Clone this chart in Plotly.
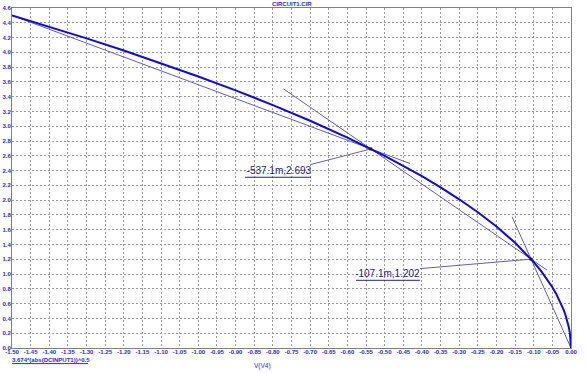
import plotly.graph_objects as go

# ---- data ----
x_curve = [-1.50, -1.40, -1.30, -1.20, -1.10, -1.00, -0.90, -0.80, -0.70, -0.60,
           -0.50, -0.40, -0.35, -0.30, -0.25, -0.20, -0.15, -0.12, -0.10, -0.08,
           -0.06, -0.05, -0.04, -0.03, -0.02, -0.015, -0.01, -0.006, -0.003, -0.001, 0.0]
y_curve = [4.500, 4.347, 4.189, 4.025, 3.853, 3.674, 3.486, 3.286, 3.074, 2.846,
           2.598, 2.324, 2.174, 2.012, 1.837, 1.643, 1.423, 1.273, 1.162, 1.039,
           0.900, 0.822, 0.735, 0.636, 0.520, 0.450, 0.367, 0.285, 0.201, 0.116, 0.0]

# thin construction lines
chord1_x = [-1.50, -0.432]
chord1_y = [4.500, 2.496]
chord12_x = [-0.771, -0.064]
chord12_y = [3.504, 1.053]
chord2_x = [-0.158, 0.0]
chord2_y = [1.773, 0.0]

# marked points
pts_x = [-0.5371, -0.1071]
pts_y = [2.693, 1.202]
pt_labels = ["-537.1m,2.693", "-107.1m,1.202"]

# label leader lines (label end -> point)
lead1_x = [-0.698, -0.5371]
lead1_y = [2.483, 2.693]
lead2_x = [-0.405, -0.1071]
lead2_y = [1.074, 1.202]

# label text centers and underlines
lab_x = [-0.784, -0.4927]
lab_y = [2.384, 0.997]
ul1_x = [-0.875, -0.698]
ul1_y = [2.310, 2.310]
ul2_x = [-0.577, -0.405]
ul2_y = [0.916, 0.916]

x_ticks = [round(-1.5 + 0.05 * i, 2) for i in range(31)]
x_tick_text = ["%.2f" % v if abs(v) > 1e-9 else "0.00" for v in x_ticks]
y_ticks = [round(0.2 * i, 1) for i in range(24)]
y_tick_text = ["%.1f" % v for v in y_ticks]

CURVE = "#0a0ae6"
THIN = "rgb(95,95,185)"
LAB = "#24247e"
TICK = "#2a2ae0"
SMALL = "Liberation Sans, Arial, sans-serif"

fig = go.Figure()
for xs, ys in [(chord1_x, chord1_y), (chord12_x, chord12_y), (chord2_x, chord2_y),
               (lead1_x, lead1_y), (lead2_x, lead2_y)]:
    fig.add_trace(go.Scatter(x=xs, y=ys, mode="lines",
                             line=dict(color=THIN, width=1), hoverinfo="skip"))
for xs, ys in [(ul1_x, ul1_y), (ul2_x, ul2_y)]:
    fig.add_trace(go.Scatter(x=xs, y=ys, mode="lines",
                             line=dict(color=LAB, width=1), hoverinfo="skip"))
fig.add_trace(go.Scatter(x=x_curve, y=y_curve, mode="lines",
                         line=dict(color=CURVE, width=2), hoverinfo="skip"))
fig.add_trace(go.Scatter(x=pts_x, y=pts_y, mode="markers",
                         marker=dict(symbol="square", size=3, color="#1a1a50"),
                         hoverinfo="skip"))
fig.add_trace(go.Scatter(x=lab_x, y=lab_y, mode="text", text=pt_labels,
                         textfont=dict(family="Liberation Sans, Arial", size=10, color=LAB),
                         hoverinfo="skip"))

fig.update_layout(
    width=587, height=373, autosize=False,
    margin=dict(l=12, r=16, t=8, b=25, pad=0),
    paper_bgcolor="white", plot_bgcolor="white",
    showlegend=False,
    xaxis=dict(range=[-1.5, 0.0], tickmode="array", tickvals=x_ticks, ticktext=x_tick_text,
               tickangle=0, ticks="", showgrid=True, gridcolor="#9a9a9a", gridwidth=1,
               griddash="2px,2px", zeroline=False, showline=True, linecolor="#808080",
               linewidth=1, mirror=True, automargin=False, ticklabelstandoff=-2,
               tickfont=dict(family=SMALL, size=6, color=TICK, weight="bold")),
    yaxis=dict(range=[0.0, 4.6], tickmode="array", tickvals=y_ticks, ticktext=y_tick_text,
               ticks="", showgrid=True, gridcolor="#9a9a9a", gridwidth=1,
               griddash="2px,2px", zeroline=False, showline=True, linecolor="#808080",
               linewidth=1, mirror=True, automargin=False, ticklabelstandoff=-1,
               tickfont=dict(family=SMALL, size=6, color=TICK, weight="bold")),
    font=dict(family="Liberation Sans, Arial"),
)

fig.add_annotation(text="CIRCUIT1.CIR", xref="paper", yref="paper", x=0.501, y=1.0,
                   xanchor="center", yanchor="bottom", showarrow=False,
                   font=dict(family=SMALL, size=6, color=TICK, weight="bold"), yshift=-1)
fig.add_annotation(text="V(V4)", xref="paper", yref="paper", x=0.448, y=0.0,
                   xanchor="center", yanchor="middle", showarrow=False,
                   font=dict(family=SMALL, size=6.5, color=TICK), yshift=-18)
fig.add_annotation(text="3.674*(abs(DCINPUT1))^0.5", xref="paper", yref="paper", x=0.0, y=0.0,
                   xanchor="left", yanchor="middle", showarrow=False,
                   font=dict(family=SMALL, size=6, color=TICK, weight="bold"),
                   yshift=-12, xshift=-2)
fig.add_shape(type="line", xref="paper", yref="paper", x0=0.0, x1=0.136, y0=-0.0459, y1=-0.0459,
              line=dict(color=TICK, width=1))

fig.write_html("out.html", config={"displayModeBar": False},
               post_script="document.body.style.margin='0';document.body.style.padding='0';")
